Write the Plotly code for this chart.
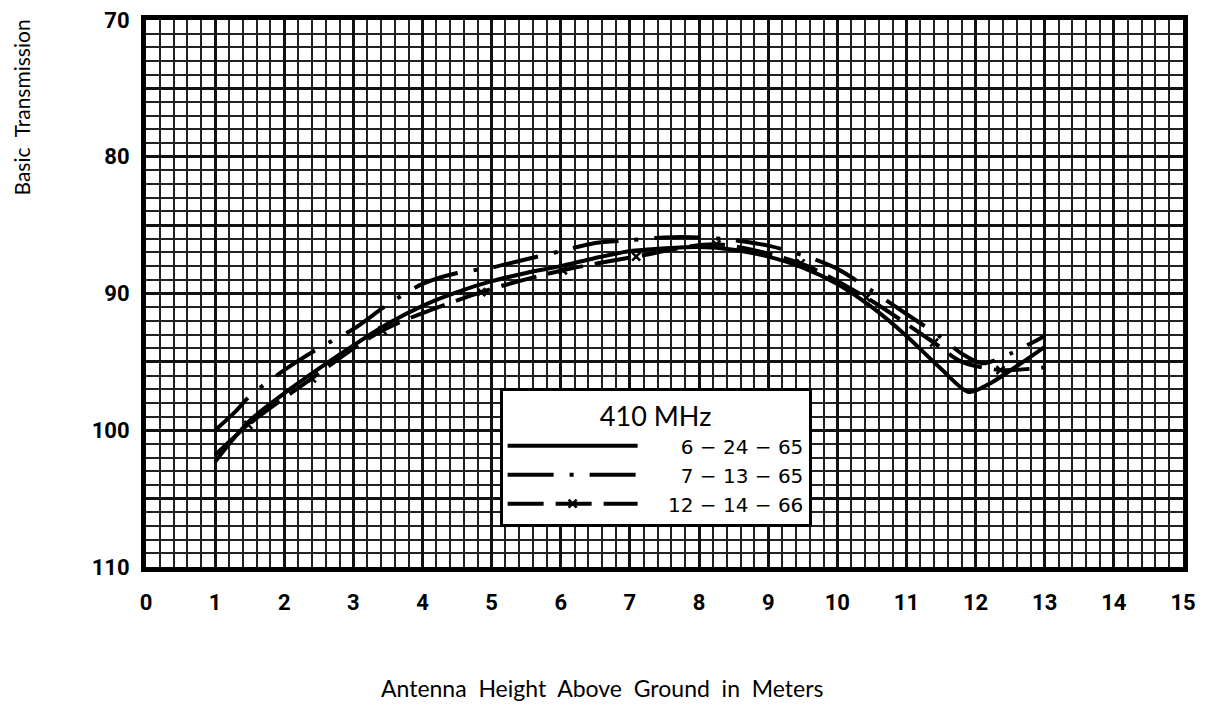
# plot.py
# Basic transmission vs antenna height, 410 MHz

import plotly.graph_objects as go

# --- data ---
# 6-24-65 (solid)
solid_x = [1.0, 1.5, 2.0, 2.5, 3.0, 3.5, 4.0, 4.5, 5.0, 5.5, 6.0, 6.5, 7.0, 7.5, 8.0,
           8.5, 9.0, 9.5, 10.0, 10.5, 11.0, 11.5, 11.9, 12.2, 12.6, 13.0]
solid_y = [102.3, 99.3, 97.3, 95.5, 93.8, 92.2, 90.9, 89.9, 89.1, 88.5, 88.0, 87.4, 86.9, 86.7, 86.6,
           86.8, 87.3, 88.1, 89.3, 91.0, 93.1, 95.5, 97.2, 96.6, 95.3, 93.9]

# 7-13-65 (dash-dot)
dashdot_x = [1.0, 1.3, 1.5, 2.0, 2.5, 3.0, 3.5, 4.0, 4.5, 5.0, 5.5, 6.0, 6.5, 7.0, 7.5, 8.0,
             8.5, 9.0, 9.5, 10.0, 10.5, 11.0, 11.5, 11.8, 12.1, 12.5, 13.0]
dashdot_y = [100.0, 98.6, 97.5, 95.6, 94.0, 92.6, 90.8, 89.3, 88.5, 88.1, 87.5, 86.9, 86.3, 86.1, 85.9, 85.9,
             86.1, 86.5, 87.2, 88.2, 89.8, 91.5, 93.2, 94.4, 95.1, 94.4, 93.1]

# 12-14-66 (dashed with x marks)
xline_x = [1.0, 1.48, 2.4, 3.42, 4.85, 6.03, 7.09, 8.25, 9.47, 10.42, 11.4, 11.8, 12.36, 13.0]
xline_y = [101.8, 99.6, 96.2, 92.7, 89.9, 88.3, 87.3, 86.4, 87.8, 90.3, 93.6, 95.0, 95.6, 95.4]
xmark_x = [1.48, 2.4, 3.42, 4.85, 6.03, 7.09, 8.25, 9.47, 10.42, 11.4, 12.36]
xmark_y = [99.6, 96.2, 92.7, 89.9, 88.3, 87.3, 86.4, 87.8, 90.3, 93.6, 95.6]

x_ticks = list(range(0, 16))
y_ticks = [70, 75, 80, 85, 90, 95, 100, 105, 110]
y_ticktext = ['70', '', '80', '', '90', '', '100', '', '110']

INK = 'black'
FONT = 'Lato, DejaVu Sans, sans-serif'
LEGFONT = 'DejaVu Sans, sans-serif'
TICKFONT = 'Roboto, Liberation Sans, sans-serif'
NB = '\u00a0'


def date_label(parts, pad):
    return NB * pad + ' − '.join(parts)


fig = go.Figure()

fig.add_trace(go.Scatter(
    x=solid_x, y=solid_y, mode='lines', name=date_label(['6', '24', '65'], 6),
    line=dict(color=INK, width=4, shape='spline', smoothing=0.8),
))

fig.add_trace(go.Scatter(
    x=dashdot_x, y=dashdot_y, mode='lines', name=date_label(['7', '13', '65'], 6),
    line=dict(color=INK, width=4, shape='spline', smoothing=0.8, dash='46px,16px,4px,16px'),
))

fig.add_trace(go.Scatter(
    x=xline_x, y=xline_y, mode='lines', showlegend=False,
    line=dict(color=INK, width=4, shape='spline', smoothing=0.8, dash='36px,12px'),
))
fig.add_trace(go.Scatter(
    x=xmark_x, y=xmark_y, mode='markers', showlegend=False,
    marker=dict(symbol='x-thin', size=8, line=dict(color=INK, width=2.5)),
))
# legend entry only
fig.add_trace(go.Scatter(
    x=[None], y=[None], mode='lines+markers', name=date_label(['12', '14', '66'], 4),
    line=dict(color=INK, width=4, dash='36px,12px'),
    marker=dict(symbol='x-thin', size=8, line=dict(color=INK, width=2.5)),
))

fig.update_xaxes(
    range=[0, 15], tickvals=x_ticks, ticks='', ticklabelstandoff=12, automargin=False,
    ticklabeloverflow='allow',
    tickfont=dict(family=TICKFONT, size=22, color=INK, weight='bold'),
    showgrid=True, gridcolor='#111', gridwidth=2.6,
    minor=dict(dtick=0.2, showgrid=True, gridcolor='#222', gridwidth=1.6),
    showline=True, linecolor=INK, linewidth=5, mirror=True, zeroline=False,
)
fig.update_yaxes(
    range=[110, 70], tickvals=y_ticks, ticktext=y_ticktext, ticks='', ticklabelstandoff=7,
    automargin=False, ticklabeloverflow='allow',
    tickfont=dict(family=TICKFONT, size=22, color=INK, weight='bold'),
    showgrid=True, gridcolor='#111', gridwidth=2.6,
    minor=dict(dtick=1, showgrid=True, gridcolor='#222', gridwidth=1.6),
    showline=True, linecolor=INK, linewidth=5, mirror=True, zeroline=False,
)

fig.add_annotation(
    text='Basic  Transmission', textangle=-90, xref='paper', yref='paper',
    x=-0.1196, y=0.84, xanchor='center', yanchor='middle', showarrow=False,
    font=dict(family=FONT, size=21, color=INK),
)
fig.add_annotation(
    text='Antenna  Height  Above  Ground  in  Meters', xref='paper', yref='paper',
    x=0.44, y=-0.221, xanchor='center', yanchor='middle', showarrow=False,
    font=dict(family=FONT, size=23, color=INK),
)

# the page body has an 8px margin, so the figure is shrunk by that much
fig.update_layout(
    width=1199, height=701,
    margin=dict(l=138, r=24, t=12, b=142),
    paper_bgcolor='white', plot_bgcolor='white',
    showlegend=True,
    legend=dict(
        x=0.341, y=0.327, xanchor='left', yanchor='top',
        bgcolor='white', bordercolor=INK, borderwidth=3,
        itemwidth=130, tracegroupgap=0,
        title=dict(text='410 MHz', side='top center', font=dict(family=FONT, size=27, color=INK)),
        font=dict(family=LEGFONT, size=20, color=INK),
    ),
)

fig.write_html("out.html")
